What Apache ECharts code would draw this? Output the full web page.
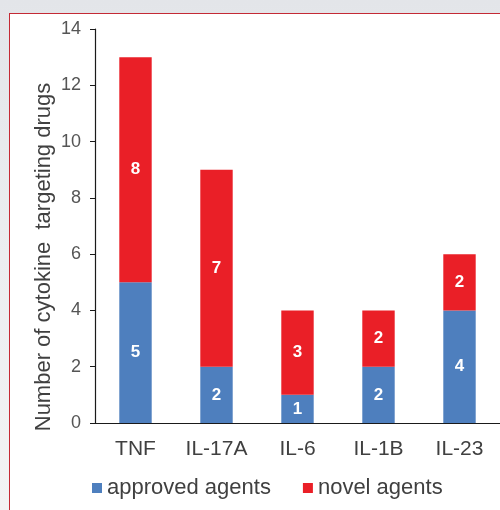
<!DOCTYPE html>
<html>
<head>
<meta charset="utf-8">
<script src="https://cdn.jsdelivr.net/npm/echarts@6/dist/echarts.min.js"></script>
<style>
  html, body { margin: 0; padding: 0; }
  body {
    width: 500px; height: 510px; overflow: hidden; position: relative;
    background: linear-gradient(180deg, #e3e5e9 0%, #eceef0 50%, #f3f3f4 100%);
  }
  #panel {
    position: absolute; left: 9px; top: 13px; width: 500px; height: 510px;
    background: #ffffff;
    border-top: 1px solid #c42a35; border-left: 1px solid #c42a35;
  }
  #chart { position: absolute; left: 0; top: 0; width: 500px; height: 510px; }
</style>
</head>
<body>
<div id="panel"></div>
<div id="chart"></div>
<script>
  // Cytokine targets and counts of drugs per target
  const categories = ['TNF', 'IL-17A', 'IL-6', 'IL-1B', 'IL-23'];
  const approvedAgents = [5, 2, 1, 2, 4];
  const novelAgents = [8, 7, 3, 2, 2];
  const yTicks = [0, 2, 4, 6, 8, 10, 12, 14];
  const yTitle = 'Number of cytokine  targeting drugs';

  const chart = echarts.init(document.getElementById('chart'), null, { renderer: 'canvas' });
  const textFont = 'Liberation Sans, Arial, sans-serif';
  const segLabel = {
    show: true, position: 'inside', color: '#ffffff',
    fontFamily: textFont, fontSize: 17, fontWeight: 'bold'
  };

  chart.setOption({
    backgroundColor: 'transparent',
    animation: false,
    legend: {
      top: 472, left: 87,
      itemWidth: 10, itemHeight: 10, itemGap: 32,
      icon: 'rect',
      textStyle: { fontFamily: textFont, fontSize: 22, color: '#404040' },
      data: ['approved agents', 'novel agents']
    },
    grid: { left: 95, right: 0, top: 29, bottom: 87 },
    graphic: [{
      type: 'text',
      x: 44, y: 257, rotation: Math.PI / 2,
      style: {
        text: yTitle, fill: '#404040',
        font: '22px Liberation Sans, Arial, sans-serif',
        align: 'center', verticalAlign: 'middle'
      }
    }],
    xAxis: {
      type: 'category',
      data: categories,
      axisLine: { lineStyle: { color: '#1a1a1a', width: 1.2 } },
      axisTick: { show: false },
      axisLabel: { fontFamily: textFont, fontSize: 21, color: '#404040', margin: 16 }
    },
    yAxis: {
      type: 'value',
      min: yTicks[0], max: yTicks[yTicks.length - 1], interval: 2,
      axisLine: { show: true, lineStyle: { color: '#1a1a1a', width: 1.2 } },
      axisTick: { show: true, length: 5, lineStyle: { color: '#1a1a1a' } },
      axisLabel: { fontFamily: textFont, fontSize: 18, color: '#555555', margin: 14 },
      splitLine: { show: false }
    },
    series: [
      {
        name: 'approved agents', type: 'bar', stack: 'drugs',
        data: approvedAgents, barWidth: '40%',
        itemStyle: { color: '#4e7fbe' },
        label: segLabel
      },
      {
        name: 'novel agents', type: 'bar', stack: 'drugs',
        data: novelAgents, barWidth: '40%',
        itemStyle: { color: '#ea1f27' },
        label: segLabel
      }
    ]
  });
</script>
</body>
</html>
